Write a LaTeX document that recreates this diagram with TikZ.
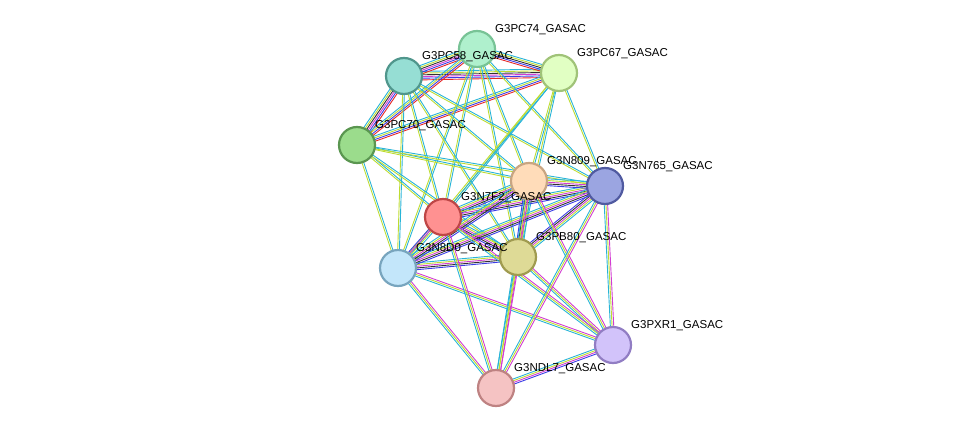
\documentclass[tikz,border=0pt]{standalone}
\usepackage{fontspec}
\setmainfont{Liberation Sans}
\usetikzlibrary{calc}
\definecolor{ty}{RGB}{190,220,50}
\definecolor{cy}{RGB}{40,180,215}
\definecolor{bk}{RGB}{50,50,50}
\definecolor{bl}{RGB}{60,60,230}
\definecolor{mg}{RGB}{210,60,210}
\definecolor{rd}{RGB}{230,40,40}
\definecolor{gr}{RGB}{60,190,60}
\tikzset{prot/.style={circle,minimum size=36pt,inner sep=0pt,line width=2.2pt},
 lbl/.style={anchor=base west,inner sep=0pt,font=\fontsize{11.5}{12}\selectfont}}
\newcommand\edg[4]{\foreach \c [count=\i] in {#4}{%
 \pgfmathsetmacro\o{(\i-(#3+1)/2)*1.7}%
 \draw[\c,line width=0.9pt] ($(#1)!\o pt!90:(#2)$) -- ($(#2)!\o pt!-90:(#1)$);}}
\begin{document}
\begin{tikzpicture}[x=1pt,y=-1pt]
\useasboundingbox (0,0) rectangle (975,434);
\coordinate (p74) at (477,49);
\coordinate (p58) at (404,76);
\coordinate (p67) at (559,73);
\coordinate (p70) at (357,145);
\coordinate (n809) at (529,181);
\coordinate (n765) at (605,186);
\coordinate (n7f2) at (443,217);
\coordinate (pb80) at (518,257);
\coordinate (n8d0) at (398,268);
\coordinate (pxr1) at (613,345);
\coordinate (ndl7) at (496,388);
% top cluster
\edg{p58}{p67}{6}{rd,bl,mg,bk,ty,cy}
\edg{p58}{p74}{6}{rd,bl,mg,bk,ty,cy}
\edg{p74}{p67}{5}{rd,bl,bk,ty,cy}
\edg{p70}{p58}{6}{rd,bl,mg,bk,ty,cy}
\edg{p70}{p67}{4}{rd,bl,ty,cy}
\edg{p70}{p74}{4}{rd,bl,ty,cy}
% top to middle
\foreach \a in {p74,p58,p67,p70}{\foreach \b in {n809,n765,n7f2,pb80,n8d0}{\edg{\a}{\b}{2}{ty,cy}}}
% middle cluster
\edg{n7f2}{n809}{5}{bl,bk,mg,ty,cy}
\edg{n7f2}{n765}{5}{bl,bk,mg,ty,cy}
\edg{n7f2}{pb80}{5}{bl,bk,mg,ty,cy}
\edg{n7f2}{n8d0}{4}{bl,mg,ty,cy}
\edg{n8d0}{pb80}{5}{bl,bk,mg,ty,cy}
\edg{n809}{pb80}{5}{bl,bk,mg,ty,cy}
\edg{n765}{pb80}{5}{bl,bk,mg,ty,cy}
\edg{n8d0}{n765}{5}{bl,bk,mg,ty,cy}
\edg{n8d0}{n809}{5}{bl,bk,mg,ty,cy}
\edg{n809}{n765}{5}{bl,bk,mg,ty,cy}
% lower
\foreach \b in {n765,n809,pb80,n7f2,n8d0}{\edg{pxr1}{\b}{3}{mg,ty,cy}}
\foreach \b in {n765,n809,pb80,n7f2,n8d0}{\edg{ndl7}{\b}{3}{mg,ty,cy}}
\edg{ndl7}{pxr1}{4}{bl,mg,ty,cy}
% nodes
\node[prot,fill={rgb,255:red,175;green,240;blue,205},draw={rgb,255:red,120;green,195;blue,150}] (a74) at (p74) {};
\node[prot,fill={rgb,255:red,150;green,222;blue,212},draw={rgb,255:red,80;green,150;blue,140}] (a58) at (p58) {};
\node[prot,fill={rgb,255:red,225;green,255;blue,195},draw={rgb,255:red,160;green,195;blue,120}] (a67) at (p67) {};
\node[prot,fill={rgb,255:red,155;green,220;blue,140},draw={rgb,255:red,90;green,150;blue,80}] (a70) at (p70) {};
\node[prot,fill={rgb,255:red,255;green,220;blue,185},draw={rgb,255:red,200;green,165;blue,130}] (a809) at (n809) {};
\node[prot,fill={rgb,255:red,155;green,165;blue,225},draw={rgb,255:red,80;green,90;blue,160}] (a765) at (n765) {};
\node[prot,fill={rgb,255:red,255;green,145;blue,145},draw={rgb,255:red,190;green,70;blue,70}] (a7f2) at (n7f2) {};
\node[prot,fill={rgb,255:red,222;green,218;blue,150},draw={rgb,255:red,160;green,155;blue,80}] (ab80) at (pb80) {};
\node[prot,fill={rgb,255:red,195;green,230;blue,250},draw={rgb,255:red,120;green,165;blue,190}] (ad0) at (n8d0) {};
\node[prot,fill={rgb,255:red,210;green,195;blue,250},draw={rgb,255:red,145;green,125;blue,195}] (ar1) at (pxr1) {};
\node[prot,fill={rgb,255:red,245;green,195;blue,195},draw={rgb,255:red,190;green,130;blue,130}] (al7) at (ndl7) {};
% labels
\node[lbl] (l74) at ($(p74)+(18,-17)$) {G3PC74\_GASAC};
\node[lbl] (l58) at ($(p58)+(18,-17)$) {G3PC58\_GASAC};
\node[lbl] (l67) at ($(p67)+(18,-17)$) {G3PC67\_GASAC};
\node[lbl] (l70) at ($(p70)+(18,-17)$) {G3PC70\_GASAC};
\node[lbl] (l809) at ($(n809)+(18,-17)$) {G3N809\_GASAC};
\node[lbl] (l765) at ($(n765)+(18,-17)$) {G3N765\_GASAC};
\node[lbl] (l7f2) at ($(n7f2)+(18,-17)$) {G3N7F2\_GASAC};
\node[lbl] (lb80) at ($(pb80)+(18,-17)$) {G3PB80\_GASAC};
\node[lbl] (ld0) at ($(n8d0)+(18,-17)$) {G3N8D0\_GASAC};
\node[lbl] (lr1) at ($(pxr1)+(18,-17)$) {G3PXR1\_GASAC};
\node[lbl] (ll7) at ($(ndl7)+(18,-17)$) {G3NDL7\_GASAC};
\end{tikzpicture}
\end{document}
